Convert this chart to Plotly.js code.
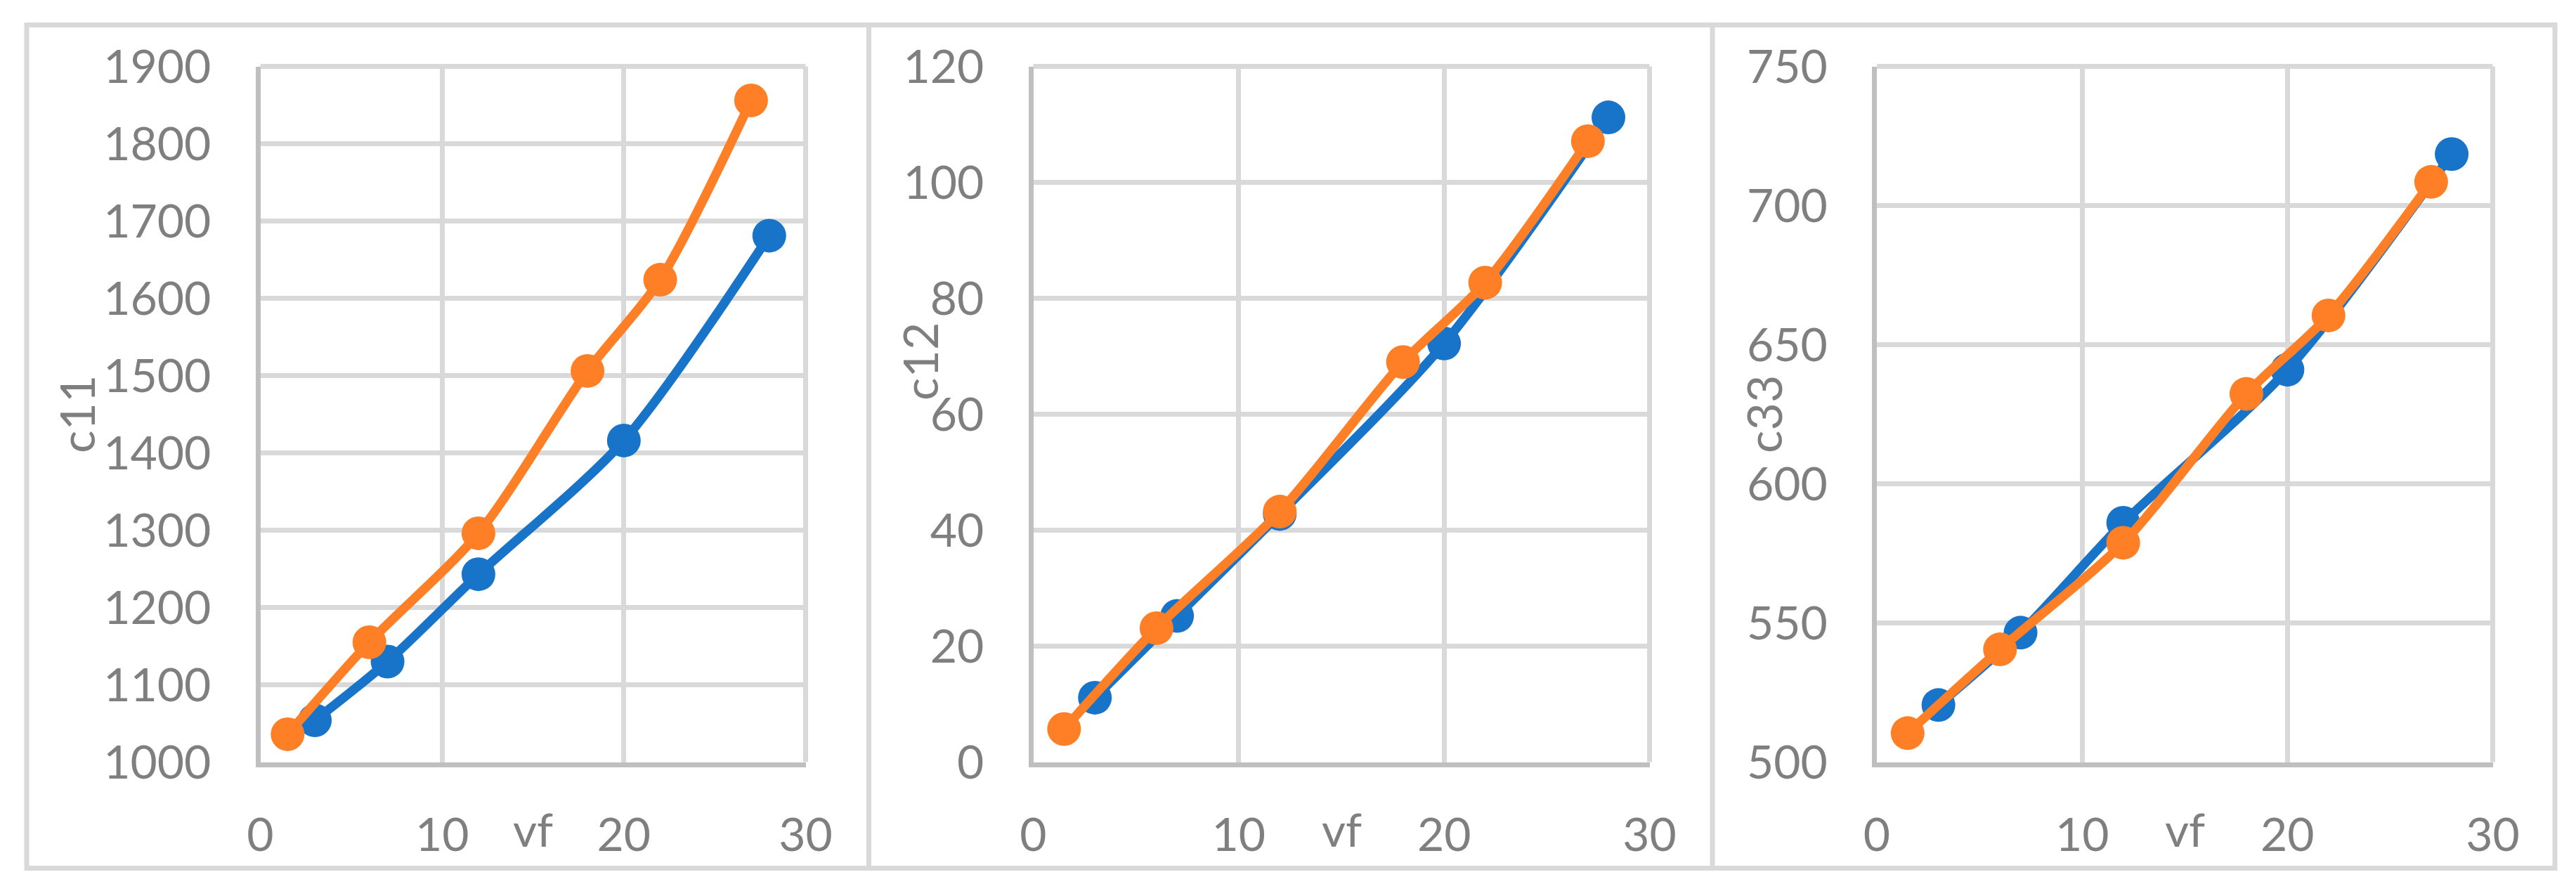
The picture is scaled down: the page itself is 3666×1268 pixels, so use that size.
<!DOCTYPE html>
<html>
<head>
<meta charset="utf-8">
<script src="https://cdn.plot.ly/plotly-3.0.1.min.js"></script>
<style>html,body{margin:0;padding:0;background:#fff;}#chart{width:3666px;height:1268px;}</style>
</head>
<body>
<div id="chart"></div>
<script>
// ---- data ----
const vfBlue   = [3, 7, 12, 20, 28];
const vfOrange = [1.5, 6, 12, 18, 22, 27];

const c11Blue   = [1054, 1130, 1243, 1416, 1681];
const c11Orange = [1036, 1155, 1296, 1506, 1624, 1856];

const c12Blue   = [11.1, 25.2, 42.8, 72.2, 111.2];
const c12Orange = [5.7, 23.1, 43.2, 69.0, 82.7, 107.1];

const c33Blue   = [520.5, 546.5, 586, 641, 718.5];
const c33Orange = [510.4, 540.5, 578.8, 632.3, 660.5, 708.5];

const panelTitles = ['c11', 'c12', 'c33'];
const xTitle = 'vf';
const yRanges = [[1000, 1900], [0, 120], [500, 750]];
const yTicks  = [100, 20, 50];
const xRange  = [0, 30];
const xTick   = 10;

// ---- styling ----
const W = 3666, H = 1268;
const BLUE = '#1874c8', ORANGE = '#fe7f26';
const GRID = '#d9d9d9', AXIS = '#bfbfbf', TXT = '#7f7f7f';
const FONT = 'Lato, "Open Sans", sans-serif';

const plotX = [[370.5, 1146.5], [1470.5, 2347.5], [2671, 3547.5]];
const plotTop = 94.5, plotBot = 1084.5;
const yDom = [(H - plotBot) / H, (H - plotTop) / H];

const seriesY = [[c11Blue, c11Orange], [c12Blue, c12Orange], [c33Blue, c33Orange]];

const traces = [];
seriesY.forEach((pair, i) => {
  const xa = i === 0 ? 'x' : 'x' + (i + 1);
  const ya = i === 0 ? 'y' : 'y' + (i + 1);
  traces.push({
    x: vfBlue, y: pair[0], xaxis: xa, yaxis: ya, type: 'scatter', mode: 'lines+markers',
    line: {color: BLUE, width: 13, shape: 'spline', smoothing: 0.8},
    marker: {color: BLUE, size: 48}, cliponaxis: false, showlegend: false, hoverinfo: 'skip'
  });
  traces.push({
    x: vfOrange, y: pair[1], xaxis: xa, yaxis: ya, type: 'scatter', mode: 'lines+markers',
    line: {color: ORANGE, width: 13, shape: 'spline', smoothing: 0.8},
    marker: {color: ORANGE, size: 48}, cliponaxis: false, showlegend: false, hoverinfo: 'skip'
  });
});

const layout = {
  width: W, height: H,
  margin: {l: 0, r: 0, t: 0, b: 0, pad: 0},
  paper_bgcolor: '#ffffff', plot_bgcolor: '#ffffff',
  showlegend: false,
  font: {family: FONT, color: TXT, size: 66},
  annotations: [],
  shapes: []
};

const tickFont = {family: FONT, size: 66, color: TXT};

for (let i = 0; i < 3; i++) {
  const sfx = i === 0 ? '' : String(i + 1);
  layout['xaxis' + sfx] = {
    domain: [plotX[i][0] / W, plotX[i][1] / W],
    anchor: 'y' + sfx,
    range: xRange, tick0: 0, dtick: xTick,
    showgrid: true, gridcolor: GRID, gridwidth: 7,
    showline: true, linecolor: AXIS, linewidth: 7,
    zeroline: false, ticks: '', ticklabelstandoff: 40,
    tickfont: tickFont, fixedrange: true
  };
  layout['yaxis' + sfx] = {
    domain: yDom,
    anchor: 'x' + sfx,
    range: yRanges[i], tick0: yRanges[i][0], dtick: yTicks[i],
    showgrid: true, gridcolor: GRID, gridwidth: 7,
    showline: true, linecolor: AXIS, linewidth: 7,
    zeroline: false, ticks: '', ticklabelstandoff: 50,
    tickfont: tickFont, fixedrange: true
  };
  // top and right frame edges of the plot area
  layout.shapes.push({type: 'line', xref: 'x' + sfx + ' domain', yref: 'y' + sfx + ' domain',
    x0: 0, x1: 1, y0: 1, y1: 1, line: {color: GRID, width: 7}, layer: 'below'});
  layout.shapes.push({type: 'line', xref: 'x' + sfx + ' domain', yref: 'y' + sfx + ' domain',
    x0: 1, x1: 1, y0: 0, y1: 1, line: {color: GRID, width: 7}, layer: 'below'});
  // x title "vf" between ticks
  layout.annotations.push({
    text: xTitle, xref: 'x' + sfx, x: 15, yref: 'paper', y: (H - 1179) / H,
    xanchor: 'center', yanchor: 'middle', showarrow: false,
    font: {family: FONT, size: 66, color: TXT}
  });
}

// y titles
const yTitlePos = [[108, 590], [1308, 515], [2509, 590]];
panelTitles.forEach((t, i) => {
  layout.annotations.push({
    text: t, xref: 'paper', yref: 'paper',
    x: yTitlePos[i][0] / W, y: (H - yTitlePos[i][1]) / H,
    xanchor: 'center', yanchor: 'middle', textangle: -90, showarrow: false,
    font: {family: FONT, size: 68, color: TXT}
  });
});

// outer panel frames
const frameL = 38, frameR = 3636, frameT = 35.5, frameB = 1235.5;
layout.shapes.push({type: 'rect', xref: 'paper', yref: 'paper',
  x0: frameL / W, x1: frameR / W, y0: (H - frameB) / H, y1: (H - frameT) / H,
  line: {color: GRID, width: 7}, layer: 'below'});
[1236.5, 2437].forEach(xp => {
  layout.shapes.push({type: 'line', xref: 'paper', yref: 'paper',
    x0: xp / W, x1: xp / W, y0: (H - frameB) / H, y1: (H - frameT) / H,
    line: {color: GRID, width: 7}, layer: 'below'});
});

Plotly.newPlot('chart', traces, layout, {staticPlot: true, displayModeBar: false});
</script>
</body>
</html>
